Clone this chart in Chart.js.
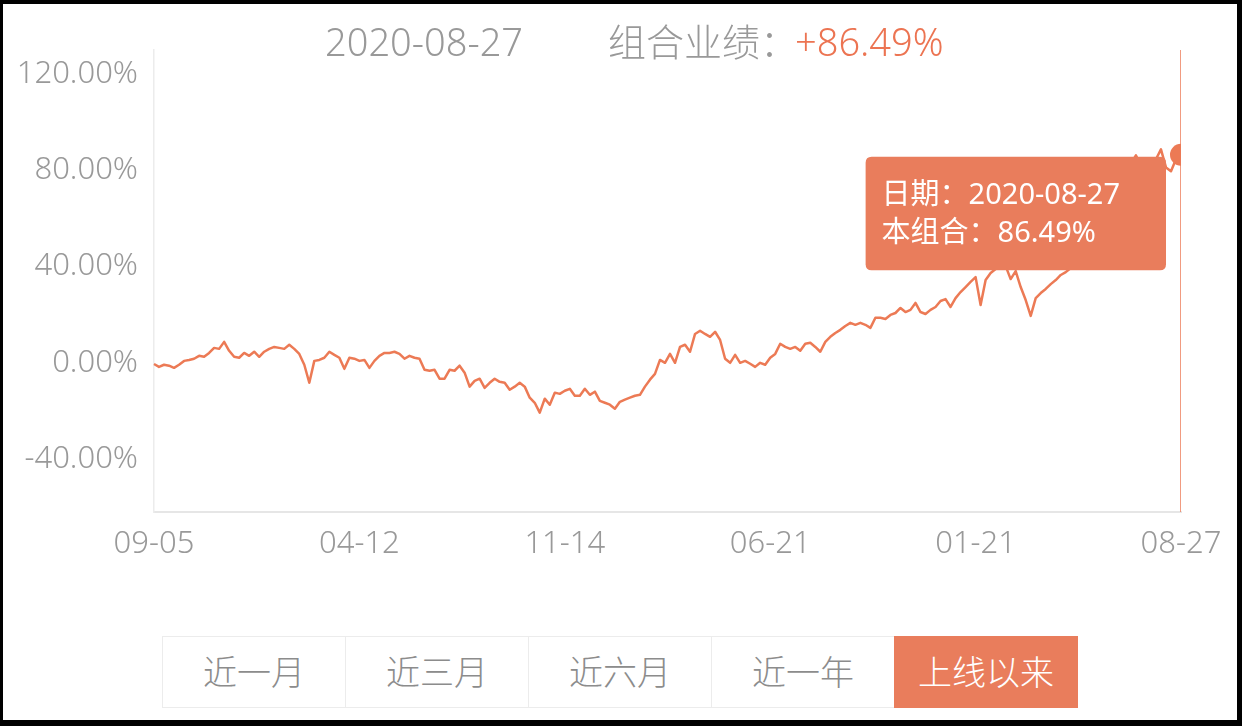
<!DOCTYPE html>
<html>
<head>
<meta charset="utf-8">
<script src="https://cdn.jsdelivr.net/npm/chart.js@4/dist/chart.umd.min.js"></script>
<style>
  html, body { margin: 0; padding: 0; width: 1242px; height: 726px; overflow: hidden; background: #000; }
  body { font-family: "Noto Sans", "Noto Sans CJK SC", sans-serif; }
  #frame { position: absolute; left: 3px; top: 4px; width: 1234px; height: 716px; background: #fff; }
  #chart { position: absolute; left: 0; top: 0; }
  .head { position: absolute; top: 16px; font-size: 38px; line-height: 50px; color: #999; white-space: nowrap; font-weight: 300; }
  .head.up { color: #ec7452; }
  #tabs { position: absolute; left: 162px; top: 636px; display: flex; }
  #tabs div { width: 182px; height: 70px; line-height: 70px; text-align: center; font-size: 34px; color: #8c8c8c;
    border: 1px solid #ececec; margin-right: -1px; background: #fff; font-weight: 300; }
  #tabs div.on { background: #e97d5c; color: #fff; border-color: #e97d5c; }
</style>
</head>
<body>
<div id="frame"></div>
<canvas id="chart" width="1242" height="726"></canvas>
<div class="head" style="left:325px">2020-08-27</div>
<div class="head" style="left:608px">组合业绩：</div>
<div class="head up" style="left:795px">+86.49%</div>
<div id="tabs"></div>
<script>
// cumulative return of the portfolio, %, 2017-09-05 .. 2020-08-27
const values = [
  -0.5, -1.7, -0.8, -1.2, -2.1, -0.8, 0.8, 1.2, 1.7, 2.9,
  2.5, 4.1, 6.2, 5.8, 8.7, 5.0, 2.5, 2.1, 4.1, 2.9,
  4.6, 2.5, 4.6, 5.8, 6.6, 6.2, 5.8, 7.5, 5.8, 3.7,
  -0.8, -8.3, 0.8, 1.2, 2.1, 4.6, 3.3, 2.1, -2.5, 2.1,
  1.7, 0.8, 1.2, -2.1, 0.8, 2.9, 4.1, 4.1, 4.6, 3.7,
  1.7, 2.9, 2.1, 1.7, -2.9, -3.3, -2.9, -6.6, -6.6, -2.9,
  -3.3, -1.2, -4.1, -9.9, -7.5, -6.6, -10.4, -8.3, -6.6, -7.9,
  -8.3, -11.2, -9.9, -8.3, -9.9, -14.5, -16.6, -20.7, -14.9, -17.4,
  -12.4, -12.9, -11.6, -10.8, -13.7, -13.7, -10.8, -13.3, -12.0, -15.8,
  -16.6, -17.4, -19.1, -16.2, -15.3, -14.5, -13.7, -13.3, -9.9, -7.0,
  -4.6, 1.2, 0.0, 3.7, 0.0, 6.6, 7.5, 4.6, 12.0, 13.3,
  12.0, 10.8, 12.9, 9.5, 1.7, 0.0, 3.3, 0.0, 0.8, -0.4,
  -1.7, 0.0, -0.8, 2.1, 3.7, 7.9, 6.6, 5.8, 6.6, 5.0,
  7.9, 8.3, 6.6, 4.6, 8.7, 10.8, 12.4, 13.7, 15.3, 16.6,
  15.8, 16.6, 15.8, 14.5, 18.7, 18.7, 18.2, 19.9, 20.7, 22.8,
  21.1, 22.0, 24.9, 21.1, 20.3, 22.0, 23.2, 25.7, 26.5, 23.2,
  26.9, 29.4, 31.5, 33.6, 35.6, 24.0, 34.4, 37.3, 39.0, 41.0,
  40.2, 34.8, 38.1, 31.5, 26.1, 19.5, 26.9, 29.0, 30.7, 32.7,
  34.4, 36.5, 37.7, 39.4, 41.0, 41.9, 43.1, 44.4, 46.0, 47.7,
  50.6, 53.1, 59.7, 67.2, 76.3, 82.9, 86.2, 82.1, 83.7, 82.5,
  84.6, 88.7, 81.2, 79.6, 84.6, 86.49
];
const tickIdx = [0, 41, 82, 123, 164, 205];
const tickLabels = ['09-05', '04-12', '11-14', '06-21', '01-21', '08-27'];
const yTicks = [-40, 0, 40, 80, 120];
const lastDate = '2020-08-27';
const tabs = ['近一月', '近三月', '近六月', '近一年', '上线以来'];

const ORANGE = '#ec7a55';
const GREY = '#999';
const FONT = '"Noto Sans", "Noto Sans CJK SC", sans-serif';

document.getElementById('tabs').innerHTML =
  tabs.map((t, i) => `<div class="${i === tabs.length - 1 ? 'on' : ''}">${t}</div>`).join('');

Chart.Tooltip.positioners.pinned = function (items) {
  if (!items.length) return false;
  const el = items[0].element;
  return { x: el.x - 21, y: el.y + 2, xAlign: 'right', yAlign: 'top' };
};

const cursorLine = {
  id: 'cursorLine',
  afterDatasetsDraw(chart) {
    const act = chart.getActiveElements();
    if (!act.length) return;
    const { ctx, chartArea } = chart;
    const x = Math.round(act[0].element.x) - 0.5;
    ctx.save();
    ctx.strokeStyle = 'rgba(236,122,85,0.75)';
    ctx.lineWidth = 1;
    ctx.beginPath();
    ctx.moveTo(x, chartArea.top);
    ctx.lineTo(x, chartArea.bottom);
    ctx.stroke();
    ctx.restore();
  }
};

const chart = new Chart('chart', {
  type: 'line',
  data: {
    datasets: [{
      data: values.map((v, i) => ({ x: i, y: v })),
      borderColor: ORANGE,
      borderWidth: 2.5,
      borderJoinStyle: 'round',
      tension: 0,
      pointRadius: 0,
      pointHitRadius: 0,
      pointHoverRadius: 11,
      pointHoverBorderWidth: 0,
      pointHoverBackgroundColor: ORANGE,
      clip: { left: 10, top: 10, right: 0, bottom: 10 },
    }]
  },
  options: {
    responsive: false,
    devicePixelRatio: 1,
    animation: false,
    events: [],
    layout: { padding: { left: 0, top: 50, right: 61, bottom: 154 } },
    plugins: {
      legend: { display: false },
      tooltip: {
        enabled: true,
        animation: false,
        position: 'pinned',
        xAlign: 'right',
        yAlign: 'top',
        caretSize: 0,
        caretPadding: 0,
        cornerRadius: 6,
        backgroundColor: '#e97d5c',
        titleColor: '#fff',
        bodyColor: '#fff',
        titleFont: { family: FONT, size: 29, weight: 'normal' },
        bodyFont: { family: FONT, size: 29 },
        titleMarginBottom: 3,
        padding: { left: 16, right: 46, top: 22, bottom: 19 },
        displayColors: false,
        callbacks: {
          title: () => '日期：' + lastDate,
          label: (c) => '本组合：' + c.parsed.y.toFixed(2) + '%'
        }
      }
    },
    scales: {
      x: {
        type: 'linear',
        min: 0,
        max: values.length - 1,
        afterFit: (s) => { s.height = 60; },
        afterBuildTicks: (s) => { s.ticks = tickIdx.map(v => ({ value: v })); },
        grid: { display: false, drawTicks: false },
        border: { display: true, color: '#e6e6e6', width: 2 },
        ticks: {
          color: GREY,
          font: { family: FONT, size: 31, weight: 300 },
          padding: 14,
          maxRotation: 0,
          callback: (v) => tickLabels[tickIdx.indexOf(v)]
        }
      },
      y: {
        min: -62,
        max: 130,
        afterFit: (s) => { s.width = 154; },
        afterBuildTicks: (s) => { s.ticks = yTicks.map(v => ({ value: v })); },
        grid: { display: false, drawTicks: false },
        border: { display: true, color: '#ececec', width: 1.5 },
        ticks: {
          color: GREY,
          font: { family: FONT, size: 31, weight: 300 },
          padding: 16,
          callback: (v) => v.toFixed(2) + '%'
        }
      }
    }
  },
  plugins: [cursorLine]
});

const last = values.length - 1;
const pt = chart.getDatasetMeta(0).data[last];
chart.setActiveElements([{ datasetIndex: 0, index: last }]);
chart.tooltip.setActiveElements([{ datasetIndex: 0, index: last }], { x: pt.x, y: pt.y });
chart.update('none');
</script>
</body>
</html>
